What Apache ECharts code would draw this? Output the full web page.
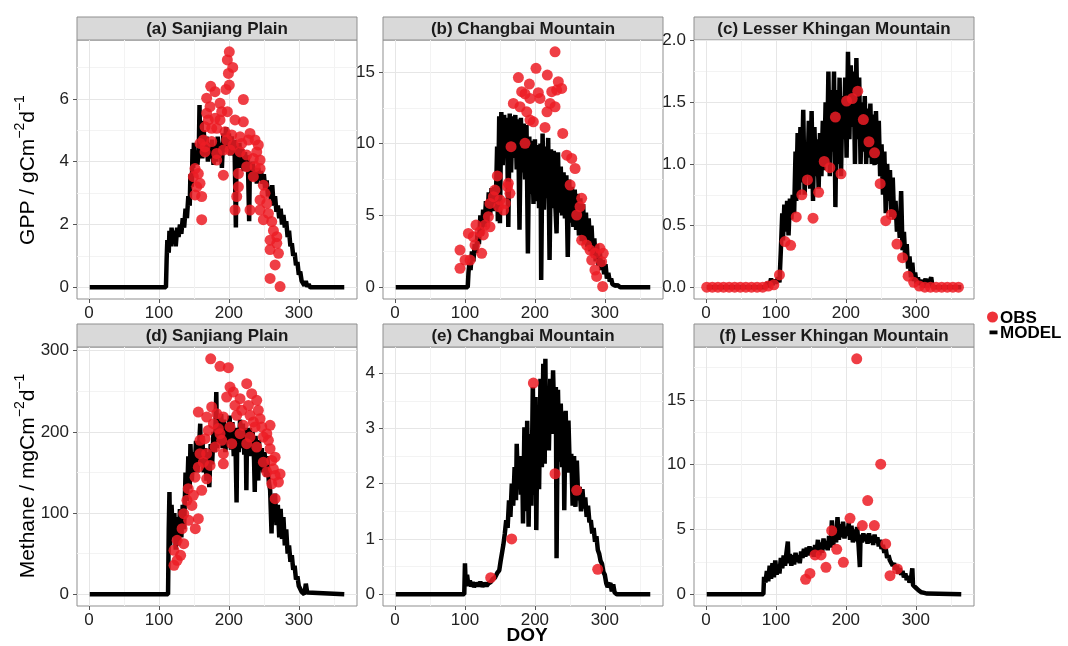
<!DOCTYPE html>
<html lang="en">
<head>
  <meta charset="UTF-8">
  <title>GPP and Methane: OBS vs MODEL</title>
  <script src="https://cdn.jsdelivr.net/npm/echarts@6/dist/echarts.min.js"></script>
  <style>
    html, body { margin: 0; padding: 0; background: #fff; }
  </style>
</head>
<body>
  <div id="main" style="width:1068px;height:646px;"></div>
  <script>
    // ---- data: [DOY, value] ----
    var panelTitles = ['(a) Sanjiang Plain', '(b) Changbai Mountain', '(c) Lesser Khingan Mountain',
                       '(d) Sanjiang Plain', '(e) Changbai Mountain', '(f) Lesser Khingan Mountain'];
    var doyTicks = [0, 100, 200, 300];
    var doyMinor = [50, 150, 250, 350];
    var yTicksList = [[0, 2, 4, 6], [0, 5, 10, 15], [0, 0.5, 1, 1.5, 2],
                      [0, 100, 200, 300], [0, 1, 2, 3, 4], [0, 5, 10, 15]];
    var yMinorList = [[1, 3, 5, 7], [2.5, 7.5, 12.5], [0.25, 0.75, 1.25, 1.75],
                      [50, 150, 250], [0.5, 1.5, 2.5, 3.5], [2.5, 7.5, 12.5, 17.5]];

    // (a) GPP Sanjiang
    var gppSanjiangModel = [[1,0],[110,0],[111,0.9],[112,1.5],[114,1.1],[115,1.8],[117,1.3],[118,1.9],[120,1.4],[122,1.8],[124,1.3],[126,1.9],[128,1.6],[130,2.0],[132,1.7],[134,2.2],[136,1.9],[138,2.5],[140,2.2],[142,2.9],[144,2.6],[145,3.6],[147,3.2],[148,4.4],[149,3.8],[150,4.6],[151,3.9],[153,4.3],[155,3.9],[157,4.4],[158,5.8],[159,4.2],[161,5.3],[162,4.1],[164,5.0],[166,4.2],[168,4.8],[170,4.0],[172,4.6],[174,4.1],[176,4.7],[178,3.9],[180,4.5],[182,4.0],[184,4.8],[186,4.1],[188,4.6],[190,3.8],[192,4.9],[194,4.3],[196,5.1],[198,4.4],[200,4.9],[202,4.2],[204,4.8],[206,4.3],[208,4.7],[210,1.9],[211,4.5],[213,4.0],[215,4.6],[217,3.8],[219,4.4],[221,3.7],[223,4.3],[225,3.8],[227,4.2],[229,2.1],[230,3.9],[232,3.5],[234,4.0],[236,3.4],[238,3.8],[240,3.3],[242,3.8],[244,3.4],[246,3.7],[248,3.3],[250,3.6],[252,3.1],[254,3.4],[256,2.9],[258,3.2],[260,2.8],[262,3.25],[264,2.6],[266,2.9],[268,2.4],[270,2.6],[272,2.2],[274,2.5],[276,2.0],[278,2.3],[280,1.9],[282,2.1],[284,1.6],[286,1.8],[288,1.3],[290,1.4],[292,1.0],[294,1.1],[296,0.7],[298,0.8],[300,0.4],[302,0.5],[304,0.2],[306,0.25],[308,0.05],[310,0.2],[312,0.02],[314,0.1],[316,0],[365,0]];
    var gppSanjiangObs = [[200.6,7.5],[197.8,7.24],[205.5,7.0],[199.3,6.81],[200.6,6.44],[195.8,6.3],[220.7,5.98],[174,6.4],[180.2,6.23],[168.2,6.02],[187.3,5.86],[173.1,5.75],[189.7,5.59],[168.2,5.54],[180.2,5.38],[197.8,5.59],[208.8,5.33],[220.7,5.27],[165.9,5.11],[182.6,5.06],[194.5,4.95],[204.1,4.85],[216,4.79],[230.2,4.9],[237.4,4.69],[242.1,4.53],[163.5,4.69],[175.4,4.64],[196.8,4.69],[206.4,4.53],[165.9,4.31],[182.6,4.26],[216,4.31],[225.5,4.21],[235,4.1],[244.6,4.05],[182.6,4.05],[151.6,3.78],[156.3,3.62],[149.2,3.52],[192.1,3.57],[213.6,3.62],[235,3.52],[158.7,3.31],[213.6,3.2],[249.3,3.25],[251.7,2.99],[151.6,2.94],[161.1,2.89],[211.2,2.89],[244.6,2.78],[254.2,2.67],[230.2,2.46],[208.8,2.46],[244.6,2.46],[256.5,2.35],[249.3,2.15],[261.3,2.09],[161.1,2.15],[263.7,1.8],[268.5,1.61],[268.5,1.4],[258.9,1.2],[266.1,0.71],[258.9,0.28],[273.2,0.02],[170.6,5.33],[187.3,5.33],[175.4,5.06],[192.1,4.37],[201.6,4.37],[218.3,4.58],[227.9,4.69],[239.8,4.31],[244.6,3.78],[225.5,3.84],[237.4,3.84],[258.9,1.5],[270.9,1.08],[158.7,4.58],[165.9,4.47],[154,3.2]];

    // (b) GPP Changbai
    var gppChangbaiModel = [[1,0],[104,0],[105,1.0],[107,2.0],[108,1.2],[110,2.5],[112,1.8],[114,3.0],[116,2.4],[118,3.8],[120,3.0],[122,5.0],[124,3.6],[126,5.4],[128,4.2],[130,6.0],[132,4.5],[134,6.6],[136,5.0],[138,6.9],[140,5.3],[142,7.0],[144,5.6],[146,9.8],[147,4.6],[149,11.9],[150,4.45],[152,12.2],[154,8.5],[156,12.0],[158,9.0],[160,11.8],[162,4.2],[164,12.1],[166,8.0],[168,11.9],[170,9.0],[172,12.0],[174,8.2],[176,11.7],[178,4.0],[180,11.8],[182,8.0],[184,11.4],[186,7.5],[188,11.3],[190,2.35],[192,10.5],[194,6.5],[196,10.2],[198,5.8],[200,10.3],[202,6.0],[204,9.9],[206,5.5],[208,10.0],[209,0.5],[211,10.7],[213,5.4],[215,9.8],[217,6.2],[219,10.4],[221,1.9],[223,9.6],[225,5.5],[227,9.5],[229,6.0],[231,3.75],[233,9.4],[235,5.2],[237,8.4],[239,5.0],[241,8.0],[243,4.8],[245,7.8],[247,2.1],[249,7.5],[251,4.5],[253,7.0],[255,4.2],[257,6.8],[259,4.0],[261,6.5],[263,3.6],[265,6.2],[267,3.2],[269,5.8],[271,3.0],[273,5.2],[275,2.8],[277,4.8],[279,2.5],[281,4.3],[283,2.2],[285,3.4],[287,1.8],[289,3.0],[291,1.5],[293,2.4],[295,1.2],[297,1.9],[299,0.9],[301,1.6],[303,0.6],[305,1.0],[307,0.4],[309,0.6],[311,0.2],[313,0.3],[315,0.1],[318,0.15],[322,0],[365,0]];
    var gppChangbaiObs = [[228.8,16.4],[201.6,15.25],[176.4,14.6],[217.8,14.78],[192.1,14.15],[233.5,14.32],[231.1,13.73],[238.3,13.85],[181.1,13.62],[185.9,13.46],[204.9,13.55],[224.1,13.62],[207.3,13.15],[193,13.15],[169.2,12.8],[178.7,12.57],[221.7,12.8],[228.8,12.57],[217.3,12.22],[188.3,12.22],[193,11.64],[197.8,11.52],[214.5,11.13],[239.8,10.71],[165.9,9.79],[185.9,10.02],[245.5,9.2],[252.7,8.97],[257.5,8.27],[250.4,7.12],[266.9,6.19],[264.5,5.61],[259.8,5.03],[146.3,7.75],[162,7.24],[164.3,6.54],[140.6,6.31],[150.1,6.08],[135.8,5.84],[148.1,5.61],[157.7,5.84],[155.3,5.38],[133.5,4.91],[115.8,4.33],[135.8,4.21],[104.9,3.75],[111.9,3.52],[121.5,3.87],[126.3,3.64],[114.4,2.94],[92.9,2.59],[123.9,2.36],[100.1,1.89],[107.3,1.89],[92.9,1.32],[266.9,3.28],[274,2.94],[278.8,2.59],[285.9,2.36],[293,2.71],[297.8,2.36],[281.2,1.89],[295.4,1.78],[285.9,1.2],[288.3,0.75],[296.9,0.05],[160.9,7.0],[142.9,6.77],[128.7,4.33]];

    // (c) GPP Lesser Khingan
    var gppKhinganModel = [[1,0],[85,0],[88,0.04],[90,0],[93,0.07],[95,0.02],[98,0.06],[100,0.03],[103,0.08],[105,0.04],[107,0.3],[109,0.6],[110,0.38],[112,0.67],[114,0.45],[116,0.7],[118,0.42],[120,0.72],[122,0.55],[124,0.75],[126,0.6],[128,1.1],[129,0.7],[131,1.25],[133,0.75],[135,1.3],[137,0.85],[139,1.44],[141,0.75],[143,1.1],[145,0.9],[147,1.35],[149,0.8],[151,1.43],[153,0.7],[155,1.3],[157,0.9],[159,1.2],[161,0.8],[163,1.25],[165,0.9],[167,1.35],[169,0.95],[171,1.5],[173,1.0],[175,1.75],[177,0.9],[179,1.6],[181,1.1],[183,1.75],[185,0.65],[187,1.6],[189,1.0],[191,1.7],[193,0.9],[195,1.55],[197,1.2],[199,1.7],[201,1.05],[203,1.91],[205,1.2],[207,1.8],[209,1.3],[211,1.75],[213,1.0],[215,1.86],[217,1.2],[219,1.7],[221,1.0],[223,1.5],[225,1.1],[227,1.55],[229,1.0],[231,1.45],[233,1.05],[235,1.49],[237,1.0],[239,1.4],[241,0.99],[243,1.43],[245,1.0],[247,1.35],[249,0.9],[251,1.16],[253,0.75],[255,1.1],[257,0.6],[259,1.0],[261,0.7],[263,0.95],[265,0.57],[267,0.89],[269,0.55],[271,0.7],[273,0.45],[275,0.6],[277,0.4],[279,0.78],[281,0.3],[283,0.45],[285,0.22],[287,0.35],[289,0.15],[291,0.25],[293,0.08],[295,0.2],[297,0.05],[299,0.12],[301,0.03],[303,0.08],[305,0.02],[308,0.06],[310,0],[314,0.07],[316,0],[322,0.08],[324,0],[365,0]];
    var gppKhinganObs = [[1,0],[9,0],[17,0],[25,0],[33,0],[41,0],[49,0],[57,0],[65,0],[73,0],[81,0],[89,0.01],[97,0.02],[105,0.1],[113,0.37],[121,0.34],[129,0.57],[137,0.75],[145,0.87],[153,0.56],[161,0.77],[169,1.02],[177,0.97],[185,1.38],[193,0.92],[201,1.51],[209,1.53],[217,1.59],[225,1.36],[233,1.18],[241,1.09],[249,0.84],[257,0.54],[265,0.59],[273,0.35],[281,0.24],[289,0.09],[297,0.04],[305,0.01],[313,0],[321,0],[329,0],[337,0],[345,0],[353,0],[361,0]];

    // (d) Methane Sanjiang
    var ch4SanjiangModel = [[1,0],[113,0],[114,80],[115,126],[116,60],[118,110],[120,70],[122,100],[124,55],[126,95],[128,60],[130,105],[132,70],[134,110],[136,80],[138,150],[140,115],[142,170],[144,130],[145,185],[147,140],[149,175],[151,150],[153,189],[155,150],[157,175],[159,210],[160,160],[162,195],[164,150],[166,180],[168,140],[170,175],[172,132],[174,185],[176,160],[178,200],[180,175],[182,249],[183,180],[185,215],[187,185],[189,222],[191,180],[193,215],[195,175],[197,210],[199,185],[201,220],[203,178],[205,212],[207,170],[209,205],[211,113],[212,200],[214,175],[216,215],[218,180],[220,210],[222,172],[224,205],[225,128],[226,200],[228,175],[230,205],[232,170],[234,200],[236,165],[237,126],[238,195],[240,170],[242,140],[243,190],[245,160],[247,180],[249,150],[251,175],[253,145],[255,170],[257,140],[259,128],[261,75],[262,120],[264,95],[266,124],[268,85],[270,110],[272,70],[274,105],[276,68],[278,95],[280,60],[282,80],[284,50],[286,60],[288,40],[290,48],[292,30],[294,35],[296,18],[298,22],[300,10],[302,12],[304,3],[306,1],[308,0],[310,13],[312,2],[314,0],[365,0]];
    var ch4SanjiangObs = [[174,290],[187.3,280.7],[199.2,279],[225.5,259.3],[201.6,255.2],[206.4,249],[232.6,247],[239.8,238.8],[216,240.9],[196.8,242.9],[242.1,226.5],[175.4,230.6],[156.3,224.4],[182.6,222.4],[168.2,218.3],[192.1,218.3],[211.2,220.3],[230.2,220.3],[244.6,216.2],[258.9,208],[177.8,210.1],[201.6,206],[220.7,208],[237.4,206],[187.3,197.7],[216,197.7],[230.2,193.6],[249.3,193.6],[256.5,189.5],[170.6,201.8],[189.7,189.5],[204.1,185.4],[165.9,191.6],[225.5,185.4],[239.8,181.3],[258.9,179.2],[192.1,173.1],[168.2,173.1],[158.7,173.1],[249.3,162.6],[261.3,164.7],[192.1,160.6],[163.5,162.6],[156.3,156.5],[173.1,158.6],[151.6,144.2],[168.2,142.2],[254.2,150.4],[266.1,146.3],[261.3,136],[270.9,138.1],[141.9,130],[161.1,128],[149.2,121.8],[266.1,117.7],[140,115.6],[147.1,109.4],[156.3,93],[135.4,99.2],[142.5,91],[152,80.7],[133.1,80.7],[126,66.4],[135.4,62.3],[121.5,54.1],[131,47.9],[121.5,35.6],[126,41.8],[180.2,181.3],[184.9,204],[208.8,232.6],[218.3,226.5],[227.9,232.6],[235,212.2],[247,206],[254.2,197.7],[266.1,168.8],[263.7,154.4],[273.2,148.2],[158.7,189.5]];

    // (e) Methane Changbai
    var ch4ChangbaiModel = [[1,0],[99,0],[100,0.56],[101,0.2],[103,0.35],[105,0.15],[107,0.25],[109,0.14],[111,0.22],[113,0.13],[116,0.2],[119,0.15],[122,0.22],[125,0.14],[128,0.2],[131,0.15],[134,0.2],[137,0.22],[140,0.28],[143,0.3],[146,0.38],[149,0.43],[151,0.6],[153,0.75],[155,0.9],[157,1.1],[159,1.34],[161,1.2],[163,1.7],[165,1.4],[167,2.0],[169,1.6],[171,2.3],[173,1.7],[174,2.72],[176,1.9],[178,2.5],[180,1.8],[182,2.25],[183,1.28],[185,3.02],[187,1.5],[189,3.14],[191,1.22],[193,2.9],[195,1.6],[197,3.75],[199,1.8],[201,3.57],[202,1.16],[204,3.4],[206,1.9],[208,3.9],[210,2.3],[212,4.17],[214,2.36],[215,4.26],[216,2.8],[218,3.75],[220,2.6],[222,3.9],[224,2.9],[226,4.05],[228,3.0],[230,3.75],[231,0.65],[233,3.7],[235,2.4],[237,3.45],[239,2.3],[241,3.3],[242,1.52],[244,3.32],[246,2.2],[248,3.14],[250,2.2],[252,2.54],[254,1.6],[256,2.5],[258,1.58],[260,2.42],[262,1.7],[264,1.94],[266,1.5],[268,1.9],[270,1.55],[272,1.75],[274,1.4],[276,1.6],[278,1.3],[280,1.34],[282,1.1],[284,1.2],[286,0.95],[288,1.05],[290,0.8],[292,0.73],[294,0.6],[296,0.55],[298,0.4],[300,0.35],[302,0.2],[304,0.13],[306,0.1],[308,0.2],[310,0.05],[312,0.18],[314,0.03],[317,0],[365,0]];
    var ch4ChangbaiObs = [[136.8,0.3],[166.8,1.0],[197.8,3.82],[228.8,2.18],[259.8,1.88],[289.8,0.45]];

    // (f) Methane Lesser Khingan
    var ch4KhinganModel = [[1,0],[82,0],[83,1.35],[85,0.9],[87,1.8],[89,1.0],[91,2.2],[93,1.2],[95,2.4],[97,1.3],[99,2.6],[101,1.5],[103,2.3],[105,1.6],[107,2.8],[109,2.0],[111,3.0],[113,2.2],[115,3.2],[117,4.06],[118,2.4],[120,3.1],[122,2.2],[124,3.0],[126,2.3],[128,3.2],[130,2.5],[132,3.0],[134,2.4],[136,3.3],[138,2.8],[140,3.5],[142,2.9],[144,3.6],[146,3.0],[148,3.7],[150,3.1],[152,3.6],[154,2.9],[156,3.8],[158,3.2],[160,4.2],[162,3.0],[164,4.0],[166,3.2],[168,4.3],[170,3.5],[172,4.1],[174,3.4],[176,4.5],[178,3.6],[180,5.7],[182,3.8],[184,5.0],[186,4.0],[188,5.96],[190,4.2],[192,5.4],[194,4.4],[196,5.6],[198,4.3],[200,5.2],[202,4.5],[204,5.5],[206,4.2],[208,5.3],[210,4.0],[212,5.0],[214,4.1],[216,5.2],[218,3.9],[220,2.1],[221,4.6],[223,4.0],[225,4.7],[227,4.1],[229,4.6],[231,3.9],[233,4.7],[235,4.0],[237,4.5],[239,3.8],[241,4.6],[243,4.0],[245,4.4],[247,3.7],[249,4.2],[251,3.5],[253,3.8],[255,3.2],[257,3.5],[259,2.8],[261,3.0],[263,2.6],[265,2.6],[267,2.2],[269,2.4],[271,1.9],[273,2.2],[275,1.6],[277,2.0],[279,1.5],[281,1.8],[283,1.3],[285,1.6],[287,1.1],[289,1.4],[291,0.9],[293,1.2],[295,2.0],[296,0.7],[298,0.8],[300,0.5],[302,0.6],[304,0.3],[306,0.4],[308,0.15],[310,0.3],[312,0.1],[314,0.2],[316,0.05],[318,0],[365,0]];
    var ch4KhinganObs = [[215.5,18.18],[249.8,10.04],[231.2,7.23],[205.9,5.86],[223.5,5.3],[240.7,5.3],[179.7,4.91],[256.9,3.88],[186.9,3.47],[155.9,3.03],[164.5,3.03],[196.4,2.46],[171.5,2.08],[273.6,1.95],[148.6,1.61],[142.4,1.15],[263.1,1.43]];

    var modelList = [gppSanjiangModel, gppChangbaiModel, gppKhinganModel, ch4SanjiangModel, ch4ChangbaiModel, ch4KhinganModel];
    var obsList = [gppSanjiangObs, gppChangbaiObs, gppKhinganObs, ch4SanjiangObs, ch4ChangbaiObs, ch4KhinganObs];

    // ---- layout ----
    var colLeft = [77, 383, 694];
    var rowTop = [40, 347];
    var plotW = 280, plotH = 259, stripH = 23;
    var font = 'Liberation Sans, Arial, sans-serif';

    // ggplot-like 5% expansion of the data range
    function expandRange(arrays, k) {
      var lo = Infinity, hi = -Infinity;
      arrays.forEach(function (arr) {
        arr.forEach(function (p) { lo = Math.min(lo, p[k]); hi = Math.max(hi, p[k]); });
      });
      var pad = (hi - lo) * 0.05;
      return [lo - pad, hi + pad];
    }
    var xRange = expandRange(modelList.concat(obsList), 0);

    var grids = [], xAxes = [], yAxes = [], series = [], graphics = [];
    for (var i = 0; i < 6; i++) {
      var gLeft = colLeft[i % 3], gTop = rowTop[Math.floor(i / 3)];
      var yRange = expandRange([modelList[i], obsList[i]], 1);
      grids.push({left: gLeft, top: gTop, width: plotW, height: plotH, show: true,
        backgroundColor: '#fff', borderColor: '#8f8f8f', borderWidth: 1});

      xAxes.push({gridIndex: i, type: 'value', position: 'bottom', min: xRange[0], max: xRange[1],
        axisLine: {show: false, onZero: false},
        axisTick: {show: true, length: 4, lineStyle: {color: '#555'}, customValues: doyTicks},
        axisLabel: {customValues: doyTicks, fontSize: 17, color: '#222', margin: 6, fontFamily: font},
        splitLine: {show: true, lineStyle: {color: '#e6e6e6', width: 1}}});
      xAxes.push({gridIndex: i, type: 'value', position: 'top', min: xRange[0], max: xRange[1],
        axisLine: {show: false, onZero: false}, axisLabel: {show: false},
        axisTick: {show: false, customValues: doyMinor},
        splitLine: {show: true, lineStyle: {color: '#f3f3f3', width: 1}}});

      var dec = i === 2 ? 1 : 0;
      yAxes.push({gridIndex: i, type: 'value', position: 'left', min: yRange[0], max: yRange[1],
        axisLine: {show: false, onZero: false},
        axisTick: {show: true, length: 4, lineStyle: {color: '#555'}, customValues: yTicksList[i]},
        axisLabel: {customValues: yTicksList[i], fontSize: 17, color: '#222', margin: 8, fontFamily: font,
          formatter: (function (d) { return function (v) { return Number(v).toFixed(d); }; })(dec)},
        splitLine: {show: true, lineStyle: {color: '#e6e6e6', width: 1}}});
      yAxes.push({gridIndex: i, type: 'value', position: 'right', min: yRange[0], max: yRange[1],
        axisLine: {show: false, onZero: false}, axisLabel: {show: false},
        axisTick: {show: false, customValues: yMinorList[i]},
        splitLine: {show: true, lineStyle: {color: '#f3f3f3', width: 1}}});

      series.push({name: 'MODEL', type: 'line', xAxisIndex: 2 * i, yAxisIndex: 2 * i,
        data: modelList[i], showSymbol: false, symbol: 'none', z: 2,
        lineStyle: {color: '#000', width: 4.5, join: 'bevel'}});
      series.push({name: 'OBS', type: 'scatter', xAxisIndex: 2 * i, yAxisIndex: 2 * i,
        data: obsList[i], symbolSize: 11, z: 3,
        itemStyle: {color: '#ec1c24', opacity: 0.85}});

      // facet strip
      graphics.push({type: 'rect', shape: {x: gLeft, y: gTop - stripH, width: plotW, height: stripH},
        style: {fill: '#d9d9d9', stroke: '#8f8f8f', lineWidth: 1}});
      graphics.push({type: 'text', x: gLeft + plotW / 2, y: gTop - stripH / 2 + 1,
        style: {text: panelTitles[i], fill: '#1a1a1a', font: 'bold 17px ' + font,
          align: 'center', verticalAlign: 'middle'}});
    }

    // axis titles, superscripts through rich text
    var richT = {
      b: {fontSize: 21, fontFamily: font, color: '#000', lineHeight: 30},
      s: {fontSize: 14, fontFamily: font, color: '#000', lineHeight: 15, verticalAlign: 'top'}
    };
    graphics.push({type: 'text', x: 28, y: 170, rotation: Math.PI / 2,
      style: {text: '{b|GPP / gCm}{s|\u22122}{b|d}{s|\u22121}', rich: richT, align: 'center', verticalAlign: 'middle'}});
    graphics.push({type: 'text', x: 28, y: 476, rotation: Math.PI / 2,
      style: {text: '{b|Methane / mgCm}{s|\u22122}{b|d}{s|\u22121}', rich: richT, align: 'center', verticalAlign: 'middle'}});
    graphics.push({type: 'text', x: 527, y: 636,
      style: {text: 'DOY', fill: '#000', font: 'bold 19px ' + font, align: 'center', verticalAlign: 'middle'}});

    // legend
    graphics.push({type: 'circle', shape: {cx: 992.5, cy: 317, r: 5.5}, style: {fill: '#ec1c24', opacity: 0.9}});
    graphics.push({type: 'text', x: 1000, y: 318,
      style: {text: 'OBS', fill: '#000', font: 'bold 17px ' + font, align: 'left', verticalAlign: 'middle'}});
    graphics.push({type: 'rect', shape: {x: 989.5, y: 330.5, width: 8, height: 3.8}, style: {fill: '#000'}});
    graphics.push({type: 'text', x: 1000, y: 333,
      style: {text: 'MODEL', fill: '#000', font: 'bold 17px ' + font, align: 'left', verticalAlign: 'middle'}});

    var chart = echarts.init(document.getElementById('main'));
    chart.setOption({
      animation: false,
      backgroundColor: '#fff',
      grid: grids,
      xAxis: xAxes,
      yAxis: yAxes,
      series: series,
      graphic: graphics
    });
  </script>
</body>
</html>
